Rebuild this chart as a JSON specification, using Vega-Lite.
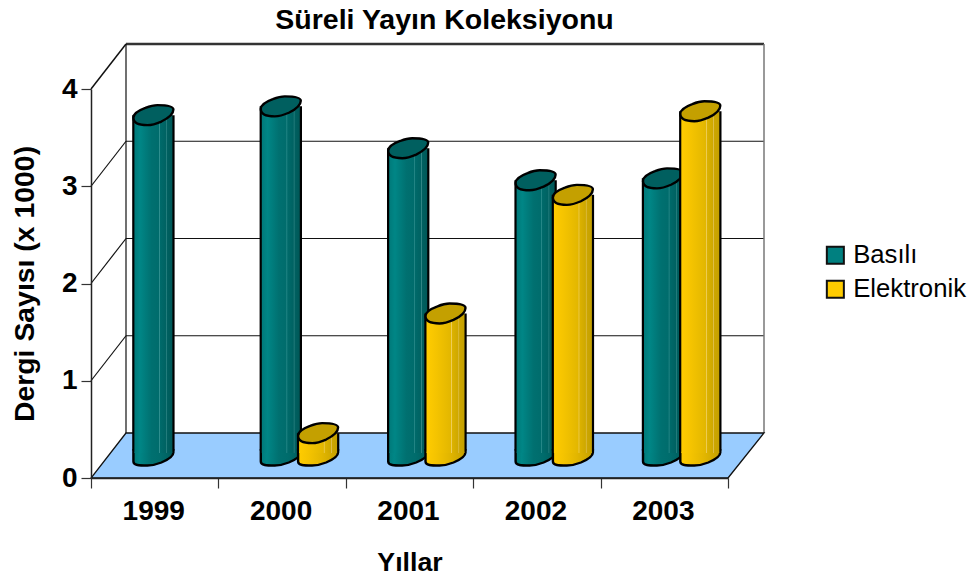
{
"$schema":"https://vega.github.io/schema/vega-lite/v6.json",
"width":637,"height":389,"autosize":"none",
"padding":{"left":91,"top":89,"right":241,"bottom":98},
"background":"white",
"config":{"view":{"stroke":null},"font":"Liberation Sans"},
"title":{"text":"Süreli Yayın Koleksiyonu","font":"Liberation Sans","fontSize":28.5,"fontWeight":"bold","color":"black","anchor":"middle","dx":35,"offset":8},
"datasets":{
"journals":[
{"year":"1999","series":"Basılı","value":3.50},
{"year":"2000","series":"Basılı","value":3.59},
{"year":"2001","series":"Basılı","value":3.16},
{"year":"2002","series":"Basılı","value":2.83},
{"year":"2003","series":"Basılı","value":2.85},
{"year":"2000","series":"Elektronik","value":0.23},
{"year":"2001","series":"Elektronik","value":1.46},
{"year":"2002","series":"Elektronik","value":2.68},
{"year":"2003","series":"Elektronik","value":3.54}
],
"ticks":[{"tick":1},{"tick":2},{"tick":3}]
},
"layer":[
{"data":{"name":"ticks"},"mark":{"type":"rule","color":"#111","strokeWidth":1.2,"yOffset":-45},
 "encoding":{"x":{"value":35},"x2":{"value":673},"y":{"field":"tick","type":"quantitative",
   "scale":{"domain":[0,4],"nice":false},
   "title":"Dergi Sayısı (x 1000)",
   "axis":{"values":[0,1,2,3,4],"format":"d","labelFont":"Liberation Sans","labelFontSize":28,"labelFontWeight":"bold","labelColor":"black","labelPadding":4,
    "titleFont":"Liberation Sans","titleFontSize":28.4,"titleFontWeight":"bold","titleColor":"black","titlePadding":22,
    "tickSize":10,"tickColor":"#333","domainColor":"#222","domainWidth":1.5,"tickWidth":1.2,"grid":false,"zindex":1}}}},
{"data":{"values":[{"tick":4}]},"mark":{"type":"rule","color":"#333","strokeWidth":2.4,"yOffset":-45},
 "encoding":{"x":{"value":35},"x2":{"value":673},"y":{"field":"tick","type":"quantitative"}}},
{"data":{"name":"ticks"},"mark":{"type":"rule","color":"#111","strokeWidth":1.2,"y2Offset":-45},
 "encoding":{"x":{"value":0},"x2":{"value":35},"y":{"field":"tick","type":"quantitative"},"y2":{"field":"tick"}}},
{"data":{"values":[{"tick":4}]},"mark":{"type":"rule","color":"#111","strokeWidth":1.5,"y2Offset":-45},
 "encoding":{"x":{"value":0},"x2":{"value":35},"y":{"field":"tick","type":"quantitative"},"y2":{"field":"tick"}}},
{"data":{"values":[{"a":0,"b":4}]},"mark":{"type":"rule","color":"#111","strokeWidth":1.2,"yOffset":-45,"y2Offset":-45},
 "encoding":{"x":{"value":35},"y":{"field":"a","type":"quantitative"},"y2":{"field":"b"}}},
{"data":{"values":[{"a":0,"b":4}]},"mark":{"type":"rule","color":"#777","strokeWidth":1.5,"yOffset":-45,"y2Offset":-45},
 "encoding":{"x":{"value":673},"y":{"field":"a","type":"quantitative"},"y2":{"field":"b"}}},
{"data":{"name":"journals"},
 "encoding":{
  "x":{"field":"year","type":"ordinal","sort":null,"scale":{"domain":["1999","2000","2001","2002","2003"],"paddingInner":0,"paddingOuter":0},
   "title":"Yıllar",
   "axis":{"labelAngle":0,"labelFont":"Liberation Sans","labelFontSize":28,"labelFontWeight":"bold","labelColor":"black","labelPadding":9,"labelOffset":-1.5,
    "titleFont":"Liberation Sans","titleFontSize":26.7,"titleFontWeight":"bold","titleColor":"black","titlePadding":24,
    "tickBand":"extent","tickSize":10,"tickColor":"#333","domainColor":"#222","domainWidth":1.5,"tickWidth":1.2,"grid":false,"zindex":1}}
 },
 "layer":[
 {"data":{"values":[{"year":"2001"}]},"mark":{"type":"point","filled":true,"fill":"#99ccff","fillOpacity":1,"stroke":"#111","strokeWidth":1.3,"strokeOpacity":1,"size":452929,"xOffset":18,"yOffset":-22.5,
   "shape":"M-1,0.0669 L0.893,0.0669 L1,-0.0669 L-0.896,-0.0669 Z"},
  "encoding":{"y":{"datum":0,"type":"quantitative"}}},
 {"mark":{"type":"point","filled":true,"size":4,"opacity":1,"xOffset":-3,"yOffset":-40},
  "encoding":{"y":{"datum":0,"type":"quantitative"},
   "fill":{"field":"series","type":"nominal","title":null,
    "scale":{"domain":["Basılı","Elektronik"],"range":["#008080","#ffcc00"]},
    "legend":{"orient":"none","legendX":731.5,"legendY":153.5,"symbolType":"square","symbolSize":290,"symbolStrokeColor":"#111","symbolStrokeWidth":2,"symbolOpacity":1,"labelFont":"Liberation Sans","labelFontSize":25.7,"labelColor":"black","labelOffset":5,"rowPadding":7,"labelLimit":200}}}},

 {"transform":[{"filter":"datum.series==='Basılı'"}],"mark":{"type":"point","filled":true,"size":1600,"opacity":1,"strokeWidth":2.4,"stroke":"black","xOffset":-1.3,"yOffset":-22.5,
   "fill":{"gradient":"linear","x1":0,"y1":0,"x2":1,"y2":0,"stops":[{"offset":0,"color":"#007a7a"},{"offset":0.15,"color":"#008686"},{"offset":0.45,"color":"#007070"},{"offset":0.68,"color":"#006c6c"},{"offset":0.85,"color":"#006464"},{"offset":1,"color":"#005858"}]},
   "shape":"M-1,-0.25 L1,-0.25 L1,-0.15 C1,0.05 0.75,0.2 0.4,0.35 C0.1,0.47 -0.1,0.5 -0.3,0.5 C-0.7,0.5 -1,0.5 -1,0.3 Z"},
  "encoding":{"y":{"datum":0,"type":"quantitative"}}},
 {"transform":[{"filter":"datum.series==='Basılı'"}],"mark":{"type":"bar","width":42.4,"color":"black","xOffset":-1.3,"yOffset":-22.5,"y2Offset":-27.5},
  "encoding":{"y":{"field":"value","type":"quantitative","stack":null},"y2":{"datum":0}}},
 {"transform":[{"filter":"datum.series==='Basılı'"}],"mark":{"type":"bar","width":38,"xOffset":-1.3,"yOffset":-22.5,"y2Offset":-25,
   "color":{"gradient":"linear","x1":0,"y1":0,"x2":1,"y2":0,"stops":[{"offset":0,"color":"#007a7a"},{"offset":0.15,"color":"#008686"},{"offset":0.45,"color":"#007070"},{"offset":0.64,"color":"#006c6c"},{"offset":0.66,"color":"#2f8f8f"},{"offset":0.68,"color":"#006a6a"},{"offset":0.83,"color":"#006262"},{"offset":0.85,"color":"#2f8585"},{"offset":0.87,"color":"#006060"},{"offset":1,"color":"#005858"}]}},
  "encoding":{"y":{"field":"value","type":"quantitative","stack":null},"y2":{"datum":0}}},
 {"transform":[{"filter":"datum.series==='Basılı'"}],"mark":{"type":"point","filled":true,"size":1600,"opacity":1,"fill":"#005f5f","stroke":"black","strokeWidth":2.4,"xOffset":-1.3,"yOffset":-22.5,
   "shape":"M-1,0.13 C-1,-0.12 -0.7,-0.25 -0.4,-0.36 C-0.15,-0.46 0,-0.5 0.2,-0.5 C0.75,-0.5 1,-0.42 1,-0.28 C1,-0.05 0.75,0.15 0.4,0.32 C0.1,0.45 -0.1,0.5 -0.3,0.5 C-0.75,0.5 -1,0.38 -1,0.13 Z"},
  "encoding":{"y":{"field":"value","type":"quantitative"}}},

 {"transform":[{"filter":"datum.series==='Elektronik'"}],"mark":{"type":"point","filled":true,"size":1600,"opacity":1,"strokeWidth":2.4,"stroke":"black","xOffset":36,"yOffset":-22.5,
   "fill":{"gradient":"linear","x1":0,"y1":0,"x2":1,"y2":0,"stops":[{"offset":0,"color":"#ffcc00"},{"offset":0.25,"color":"#f5c400"},{"offset":0.6,"color":"#e2b600"},{"offset":1,"color":"#c4a000"}]},
   "shape":"M-1,-0.25 L1,-0.25 L1,-0.15 C1,0.05 0.75,0.2 0.4,0.35 C0.1,0.47 -0.1,0.5 -0.3,0.5 C-0.7,0.5 -1,0.5 -1,0.3 Z"},
  "encoding":{"y":{"datum":0,"type":"quantitative"}}},
 {"transform":[{"filter":"datum.series==='Elektronik'"}],"mark":{"type":"bar","width":42.4,"color":"black","xOffset":36,"yOffset":-22.5,"y2Offset":-27.5},
  "encoding":{"y":{"field":"value","type":"quantitative","stack":null},"y2":{"datum":0}}},
 {"transform":[{"filter":"datum.series==='Elektronik'"}],"mark":{"type":"bar","width":38,"xOffset":36,"yOffset":-22.5,"y2Offset":-25,
   "color":{"gradient":"linear","x1":0,"y1":0,"x2":1,"y2":0,"stops":[{"offset":0,"color":"#ffcc00"},{"offset":0.25,"color":"#f5c400"},{"offset":0.6,"color":"#e4b800"},{"offset":0.64,"color":"#e2b600"},{"offset":0.66,"color":"#f0d060"},{"offset":0.68,"color":"#dcb200"},{"offset":0.83,"color":"#cea800"},{"offset":0.85,"color":"#e0c050"},{"offset":0.87,"color":"#cca600"},{"offset":1,"color":"#c4a000"}]}},
  "encoding":{"y":{"field":"value","type":"quantitative","stack":null},"y2":{"datum":0}}},
 {"transform":[{"filter":"datum.series==='Elektronik'"}],"mark":{"type":"point","filled":true,"size":1600,"opacity":1,"fill":"#c4a000","stroke":"black","strokeWidth":2.4,"xOffset":36,"yOffset":-22.5,
   "shape":"M-1,0.13 C-1,-0.12 -0.7,-0.25 -0.4,-0.36 C-0.15,-0.46 0,-0.5 0.2,-0.5 C0.75,-0.5 1,-0.42 1,-0.28 C1,-0.05 0.75,0.15 0.4,0.32 C0.1,0.45 -0.1,0.5 -0.3,0.5 C-0.75,0.5 -1,0.38 -1,0.13 Z"},
  "encoding":{"y":{"field":"value","type":"quantitative"}}}
 ]}
]
}
